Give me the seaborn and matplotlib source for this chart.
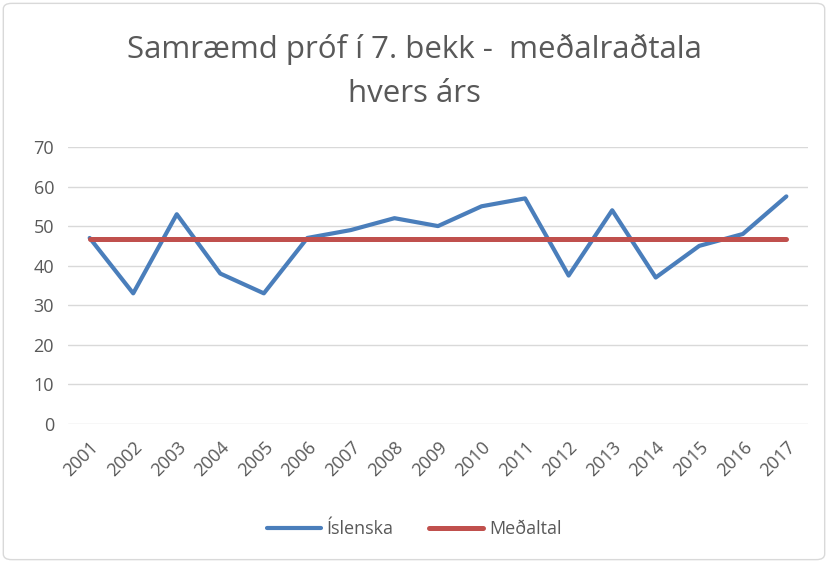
import pandas as pd
import seaborn as sns
from matplotlib import pyplot as plt
from matplotlib.patches import FancyBboxPatch

# Gögn lesin af myndinni
ar = ['2001', '2002', '2003', '2004', '2005', '2006', '2007', '2008', '2009',
      '2010', '2011', '2012', '2013', '2014', '2015', '2016', '2017']
islenska = [47, 33, 53, 38, 33, 47, 49, 52, 50, 55, 57, 37.5, 54, 37, 45, 48, 57.5]
medaltal = [46.7, 46.7, 46.7, 46.7, 46.7, 46.7, 46.7, 46.7, 46.7,
            46.7, 46.7, 46.7, 46.7, 46.7, 46.7, 46.7, 46.7]
yticks = [0, 10, 20, 30, 40, 50, 60, 70]

sns.set_style("white")
plt.rcParams['font.family'] = ['Open Sans', 'DejaVu Sans']
grey = '#595959'

df = pd.DataFrame({'ar': ar * 2,
                   'gildi': islenska + medaltal,
                   'rod': ['Íslenska'] * len(ar) + ['Meðaltal'] * len(ar)})

fig = plt.figure(figsize=(8.28, 5.63), dpi=100)
ax = fig.add_axes([0.082, 0.247, 0.894, 0.492])

sns.lineplot(data=df, x='ar', y='gildi', hue='rod', ax=ax,
             palette={'Íslenska': '#4A7EBB', 'Meðaltal': '#C0504D'},
             linewidth=3, legend=False, sort=False)
lines = ax.get_lines()
for ln in lines:
    ln.set_solid_capstyle('round')
lines[1].set_linewidth(3.6)

ax.set_xlim(-0.5, len(ar) - 0.5)
ax.set_ylim(0, 70)
ax.set_yticks(yticks)
ax.yaxis.grid(True, color='#d9d9d9', linewidth=1)
for s in ax.spines.values():
    s.set_visible(False)
ax.set_xlabel('')
ax.set_ylabel('')
ax.tick_params(axis='both', length=0, labelsize=13, colors=grey, pad=10)
plt.setp(ax.get_xticklabels(), rotation=45, ha='right', rotation_mode='anchor')

fig.suptitle('Samræmd próf í 7. bekk -  meðalraðtala\nhvers árs',
             x=0.5, y=0.94, fontsize=22.5, color=grey, linespacing=1.6)

handles = [plt.Line2D([], [], color='#4A7EBB', lw=3),
           plt.Line2D([], [], color='#C0504D', lw=3.6)]
fig.legend(handles, ['Íslenska', 'Meðaltal'], loc='center', ncol=2,
           bbox_to_anchor=(0.5, 0.06), frameon=False, fontsize=13,
           labelcolor=grey, handlelength=3, handletextpad=0.3, columnspacing=2)

fig.patches.append(FancyBboxPatch((0.004, 0.006), 0.992, 0.988,
                                  boxstyle='round,pad=0,rounding_size=0.01',
                                  transform=fig.transFigure, fill=False,
                                  edgecolor='#d9d9d9', linewidth=1))

plt.savefig('out.png')
